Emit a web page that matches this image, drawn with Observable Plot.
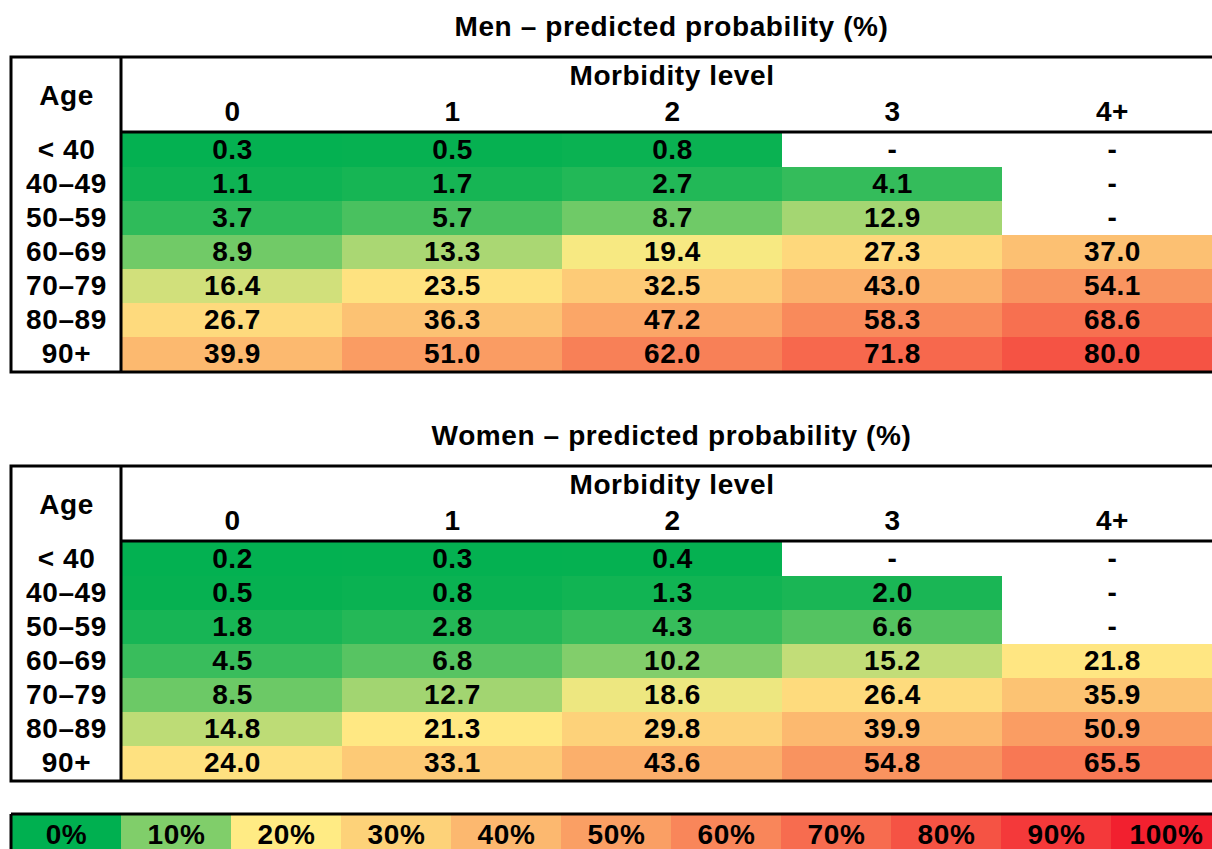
<!DOCTYPE html>
<html>
<head>
<meta charset="utf-8">
<script src="https://cdn.jsdelivr.net/npm/d3@7"></script>
<script src="https://cdn.jsdelivr.net/npm/@observablehq/plot@0.6"></script>
<style>
  html, body { margin: 0; padding: 0; background: #fff; }
  #page { position: relative; width: 1212px; height: 849px; overflow: hidden; }
  .title { position: absolute; left: 121px; width: 1101px; height: 54px; line-height: 54px;
           text-align: center; font-family: "Liberation Sans", Arial, sans-serif; font-weight: bold;
           font-size: 28px; letter-spacing: 0.6px; color: #000; white-space: nowrap; }
  .block { position: absolute; left: 0; width: 1240px; }
  .block svg { max-width: none !important; display: block; }
</style>
</head>
<body>
<div id="page">
  <div class="title" id="t1" style="top:0px">Men – predicted probability (%)</div>
  <div class="block" id="men" style="top:51px"></div>
  <div class="title" id="t2" style="top:409px">Women – predicted probability (%)</div>
  <div class="block" id="women" style="top:460px"></div>
  <div class="block" id="legend" style="top:810px"></div>
</div>
<script>
// ---- data ----
const ages = ["< 40", "40–49", "50–59", "60–69", "70–79", "80–89", "90+"];
const morbidity = ["0", "1", "2", "3", "4+"];
const menValues = [
  [0.3, 0.5, 0.8, null, null],
  [1.1, 1.7, 2.7, 4.1, null],
  [3.7, 5.7, 8.7, 12.9, null],
  [8.9, 13.3, 19.4, 27.3, 37.0],
  [16.4, 23.5, 32.5, 43.0, 54.1],
  [26.7, 36.3, 47.2, 58.3, 68.6],
  [39.9, 51.0, 62.0, 71.8, 80.0]
];
const womenValues = [
  [0.2, 0.3, 0.4, null, null],
  [0.5, 0.8, 1.3, 2.0, null],
  [1.8, 2.8, 4.3, 6.6, null],
  [4.5, 6.8, 10.2, 15.2, 21.8],
  [8.5, 12.7, 18.6, 26.4, 35.9],
  [14.8, 21.3, 29.8, 39.9, 50.9],
  [24.0, 33.1, 43.6, 54.8, 65.5]
];
const legendValues = [0, 10, 20, 30, 40, 50, 60, 70, 80, 90, 100];
const legendLabels = ["0%", "10%", "20%", "30%", "40%", "50%", "60%", "70%", "80%", "90%", "100%"];
const colorStops = [0, 20, 100];
const colorRange = ["#00B050", "#FFEB84", "#F2202F"];

// ---- styling ----
const FONT = "'Liberation Sans', Arial, sans-serif";
const FS = 28;
const W = 1240;
const LEFT = 11;        // outer table left edge
const AGE_W = 110;      // age column width
const ML = LEFT + AGE_W;
const MR = 18;
const HEADER = 81;      // header height incl. top offset
const TOPOFF = 6;       // outer top border offset inside svg
const ROWS_H = 240;
const MB = 4;

const colorScale = {type: "linear", domain: colorStops, range: colorRange, interpolate: "rgb"};
const txt = {fontSize: FS, fontWeight: "bold", fontFamily: FONT, fill: "black",
             textAnchor: "middle", lineAnchor: "middle"};

function table(values) {
  const data = [];
  ages.forEach((a, i) => morbidity.forEach((m, j) => data.push({age: a, m, v: values[i][j]})));
  const height = HEADER + ROWS_H + MB;
  const svg = Plot.plot({
    width: W, height,
    marginLeft: ML, marginRight: MR, marginTop: HEADER, marginBottom: MB,
    style: {fontFamily: FONT, letterSpacing: "0.6px", background: "white", maxWidth: "none"},
    x: {domain: morbidity, axis: null, padding: 0},
    y: {domain: ages, axis: null, padding: 0},
    color: colorScale,
    marks: [
      Plot.cell(data.filter(d => d.v != null), {x: "m", y: "age", fill: "v", inset: 0}),
      Plot.text(data, {x: "m", y: "age", text: d => d.v == null ? "-" : d.v.toFixed(1), ...txt}),
      Plot.text(morbidity, {x: d => d, frameAnchor: "top", dy: -20, ...txt}),
      Plot.text(["Morbidity level"], {frameAnchor: "top", dy: -56, ...txt}),
      Plot.text(ages, {y: d => d, frameAnchor: "left", dx: -AGE_W / 2, ...txt}),
      Plot.text(["Age"], {frameAnchor: "top-left", dx: -AGE_W / 2, dy: -36, ...txt})
    ]
  });
  const s = d3.select(svg);
  const bottom = height - MB;
  const right = W - MR;
  const g = s.append("g").attr("stroke", "black").attr("stroke-width", 3).attr("fill", "none");
  g.append("rect").attr("x", LEFT).attr("y", TOPOFF).attr("width", right - LEFT).attr("height", bottom - TOPOFF);
  g.append("line").attr("x1", ML).attr("x2", ML).attr("y1", TOPOFF).attr("y2", bottom);
  g.append("line").attr("x1", ML).attr("x2", right).attr("y1", HEADER).attr("y2", HEADER);
  return svg;
}

document.getElementById("men").appendChild(table(menValues));
document.getElementById("women").appendChild(table(womenValues));

// ---- legend ----
(function () {
  const legend = legendLabels.map((l, i) => ({label: l, v: legendValues[i]}));
  const height = 44;
  const top = 4;
  const svg = Plot.plot({
    width: W, height,
    marginLeft: LEFT, marginRight: W - (LEFT + 1210), marginTop: top + 1, marginBottom: 0,
    style: {fontFamily: FONT, letterSpacing: "0.6px", background: "white", maxWidth: "none"},
    x: {domain: legendLabels, axis: null, padding: 0},
    y: {axis: null},
    color: colorScale,
    marks: [
      Plot.cell(legend, {x: "label", fill: "v", inset: 0}),
      Plot.text(legend, {x: "label", text: "label", frameAnchor: "top", dy: 20, ...txt})
    ]
  });
  const g = d3.select(svg).append("g").attr("stroke", "black").attr("stroke-width", 3);
  g.append("line").attr("x1", LEFT).attr("x2", W).attr("y1", top).attr("y2", top);
  g.append("line").attr("x1", LEFT).attr("x2", LEFT).attr("y1", top).attr("y2", height);
  document.getElementById("legend").appendChild(svg);
})();
</script>
</body>
</html>
